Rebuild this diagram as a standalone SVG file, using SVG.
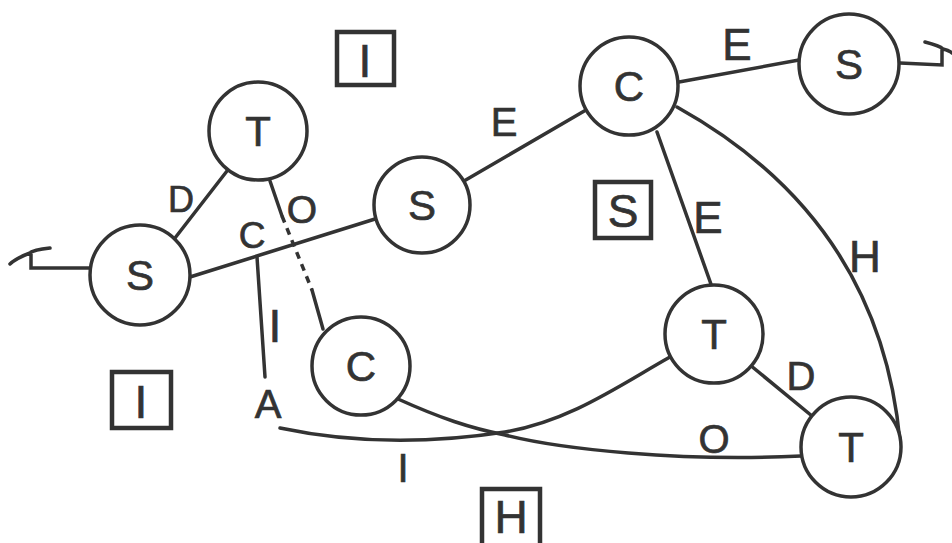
<svg xmlns="http://www.w3.org/2000/svg" width="952" height="543" viewBox="0 0 952 543">
<style>
  .bg { fill: #ffffff; }
  .node circle { fill: #ffffff; stroke: #333; stroke-width: 3.5; }
  .node text, .lbl, .box text { font-family: "Liberation Sans", "DejaVu Sans", sans-serif; fill: #333; stroke: #333; stroke-width: 0.7; text-anchor: middle; }
  .node text { font-size: 42px; }
  .lbl { font-size: 40px; }
  .box rect { fill: none; stroke: #333; stroke-width: 4.5; }
  .box text { font-size: 46px; }
  .edge { fill: none; stroke: #333; stroke-width: 3.5; stroke-linecap: round; }
  .dash { stroke-dasharray: 7 6; stroke-linecap: butt; }
</style>
<rect class="bg" width="952" height="543"/>

<g id="connectors">
  <!-- stubs -->
  <path class="edge" d="M89,268 H31 V252 M50,248 C40,249 33,250 30,253 C22,256 15,259 10,264"/>
  <path class="edge" d="M900,63 L942,65 V50 M925,42 C933,44 940,46 943,49 C947,50 950,51 952,53"/>
  <!-- T1-S1 D -->
  <line class="edge" x1="227" y1="171" x2="175" y2="238"/>
  <!-- S1-S2 C -->
  <line class="edge" x1="190" y1="277" x2="375" y2="219"/>
  <!-- branch to A -->
  <line class="edge" x1="257" y1="257" x2="265" y2="377"/>
  <!-- T1-C2 dashed O -->
  <line class="edge" x1="270" y1="181" x2="282" y2="216"/>
  <line class="edge dash" x1="282" y1="216" x2="312" y2="290"/>
  <line class="edge" x1="312" y1="290" x2="323" y2="329"/>
  <!-- S2-C1 E -->
  <line class="edge" x1="464" y1="181" x2="586" y2="110"/>
  <!-- C1-S3 E -->
  <line class="edge" x1="679" y1="82" x2="799" y2="60"/>
  <!-- C1-T2 E -->
  <line class="edge" x1="657" y1="132" x2="712" y2="287"/>
  <!-- C1-T3 H -->
  <path class="edge" d="M677,107 Q880,220 900,442"/>
  <!-- T2-T3 D -->
  <line class="edge" x1="750" y1="365" x2="812" y2="416"/>
  <!-- A - T2 (I) -->
  <path class="edge" d="M280,428 C360,445 440,442 505,432 C570,421 620,385 670,357"/>
  <!-- C2 - T3 (O) -->
  <path class="edge" d="M398,399 C440,418 470,428 505,435 C560,449 680,462 801,456"/>
</g>

<g id="edge-labels">
  <text class="lbl" x="181" y="212" style="font-size:36px">D</text>
  <text class="lbl" x="252" y="248" style="font-size:37px">C</text>
  <text class="lbl" x="302" y="223" style="font-size:39px">O</text>
  <text class="lbl" x="275" y="342" style="font-size:46px">I</text>
  <text class="lbl" x="268" y="418">A</text>
  <text class="lbl" x="403" y="482">I</text>
  <text class="lbl" x="504" y="136">E</text>
  <text class="lbl" x="737" y="60" style="font-size:44px">E</text>
  <text class="lbl" x="708" y="233" style="font-size:44px">E</text>
  <text class="lbl" x="865" y="272" style="font-size:44px">H</text>
  <text class="lbl" x="801" y="390">D</text>
  <text class="lbl" x="714" y="453">O</text>
</g>

<g id="node-T1" class="node"><circle cx="258" cy="131" r="49"/><text x="258" y="146">T</text></g>
<g id="node-S1" class="node"><circle cx="140" cy="275" r="50"/><text x="140" y="290">S</text></g>
<g id="node-S2" class="node"><circle cx="422" cy="205" r="48"/><text x="422" y="220">S</text></g>
<g id="node-C1" class="node"><circle cx="629" cy="86" r="49"/><text x="629" y="101">C</text></g>
<g id="node-S3" class="node"><circle cx="849" cy="64" r="50"/><text x="849" y="79">S</text></g>
<g id="node-C2" class="node"><circle cx="361" cy="366" r="49"/><text x="361" y="381">C</text></g>
<g id="node-T2" class="node"><circle cx="714" cy="334" r="49"/><text x="714" y="349">T</text></g>
<g id="node-T3" class="node"><circle cx="851" cy="447" r="50"/><text x="851" y="462">T</text></g>

<g id="box-I-top" class="box"><rect x="337" y="32" width="57" height="53"/><text x="365" y="77">I</text></g>
<g id="box-S" class="box"><rect x="595" y="182" width="56" height="56"/><text x="623" y="227">S</text></g>
<g id="box-I-left" class="box"><rect x="112" y="372" width="59" height="56"/><text x="141" y="418">I</text></g>
<g id="box-H" class="box"><rect x="482" y="489" width="58" height="62"/><text x="511" y="533">H</text></g>
</svg>
